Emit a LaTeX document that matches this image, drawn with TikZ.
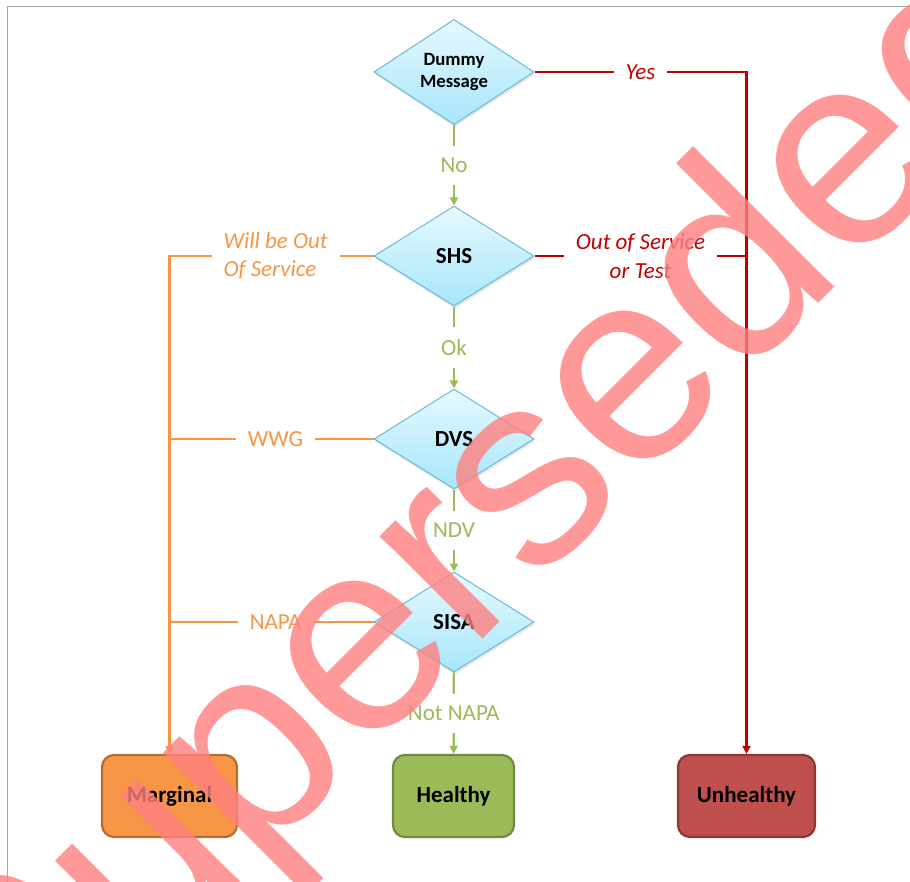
\documentclass[tikz,border=0pt]{standalone}
\usepackage{fontspec}
\setmainfont{Carlito}
\newfontfamily\stampfont{Liberation Sans}
\usepackage{tikz}
\usetikzlibrary{positioning, calc}
\usetikzlibrary{shapes.geometric, shadows}
\usetikzlibrary{arrows.meta}

\definecolor{okgreen}{HTML}{9BBB59}
\definecolor{okgreendark}{HTML}{71893F}
\definecolor{failred}{HTML}{C00000}
\definecolor{unhealthyfill}{HTML}{C0504D}
\definecolor{unhealthyline}{HTML}{8C3836}
\definecolor{warnorange}{HTML}{F79646}
\definecolor{warnorangedark}{HTML}{B66D31}
\definecolor{diamondline}{HTML}{6CB8D6}
\definecolor{diamondtop}{HTML}{E6F9FE}
\definecolor{diamondbottom}{HTML}{A6E6FA}
\definecolor{framegray}{HTML}{A6A6A6}
\definecolor{stampred}{HTML}{FF8080}

\tikzset{
    decision/.style={diamond, draw=diamondline, line width=1pt,
        top color=diamondtop, bottom color=diamondbottom,
        minimum width=160pt, minimum height=100pt, inner sep=0pt, align=center,
        font=\fontsize{23}{26}\selectfont\bfseries,
        drop shadow={opacity=0.2, shadow xshift=1pt, shadow yshift=-2.5pt}},
    outcome/.style={rectangle, rounded corners=12pt, line width=2.2pt,
        minimum height=82pt, font=\fontsize{23}{26}\selectfont\bfseries},
    lbl/.style={fill=white, inner xsep=12pt, inner ysep=12pt,
        font=\fontsize{23}{28.5}\selectfont},
    okline/.style={draw=okgreen, line width=2.2pt, -{Triangle[width=8pt,length=8pt]}},
    failline/.style={draw=failred, line width=2.2pt},
    warnline/.style={draw=warnorange, line width=2.2pt},
    tip/.style={-{Triangle[width=8pt,length=8pt]}},
    stamp/.style={font=\stampfont\fontsize{275}{300}\selectfont, text=stampred,
        text opacity=0.8, rotate=45, anchor=base, inner sep=0pt}
}

\begin{document}
\begin{tikzpicture}[x=1pt,y=-1pt]
                    \useasboundingbox (0,0) rectangle (910,882);
                    \draw[framegray, line width=1.5pt] (7.5,882) -- (7.5,6.5) -- (910,6.5);

                    \node[decision, font=\fontsize{18.7}{22}\selectfont\bfseries] (dummy) at (454,72) {Dummy\\Message};
                    \node[decision] (shs) at (454,256) {SHS};
                    \node[decision] (dvs) at (454,439) {DVS};
                    \node[decision] (sisa) at (454,622) {SISA};

                    \node[outcome, fill=warnorange, draw=warnorangedark, minimum width=135pt] (marginal) at (169.5,796) {Marginal};
                    \node[outcome, fill=okgreen, draw=okgreendark, minimum width=121pt] (healthy) at (453.5,796) {Healthy};
                    \node[outcome, fill=unhealthyfill, draw=unhealthyline, minimum width=137pt] (unhealthy) at (746.5,796) {Unhealthy};

                    \draw[okline] (dummy) -- node[lbl, text=okgreen] {No} (shs);
                    \draw[okline] (shs) -- node[lbl, text=okgreen] {Ok} (dvs);
                    \draw[okline] (dvs) -- node[lbl, text=okgreen] {NDV} (sisa);
                    \draw[okline] (sisa) -- node[lbl, text=okgreen] {Not NAPA} (healthy);

                    \draw[failline, tip] (dummy.east) -- node[lbl, text=failred, font=\fontsize{23}{28.5}\selectfont\itshape] {Yes} (dummy.east -| unhealthy.north) -- (unhealthy.north);
                    \draw[failline] (shs.east) -- node[lbl, text=failred, align=center, font=\fontsize{23}{28.5}\selectfont\itshape] {Out of Service\\or Test} (shs.east -| unhealthy.north);

                    \draw[warnline, tip] (shs.west) -- node[lbl, pos=0.48, text=warnorange, align=left, font=\fontsize{23}{28.5}\selectfont\itshape] {Will be Out\\Of Service} (shs.west -| marginal.north) -- (marginal.north);
                    \draw[warnline] (dvs.west) -- node[lbl, pos=0.48, text=warnorange] {WWG} (dvs.west -| marginal.north);
                    \draw[warnline] (sisa.west) -- node[lbl, pos=0.48, text=warnorange] {NAPA} (sisa.west -| marginal.north);

                    \node[stamp] (superseded) at (540,582) {Superseded};
                \end{tikzpicture}
\end{document}
